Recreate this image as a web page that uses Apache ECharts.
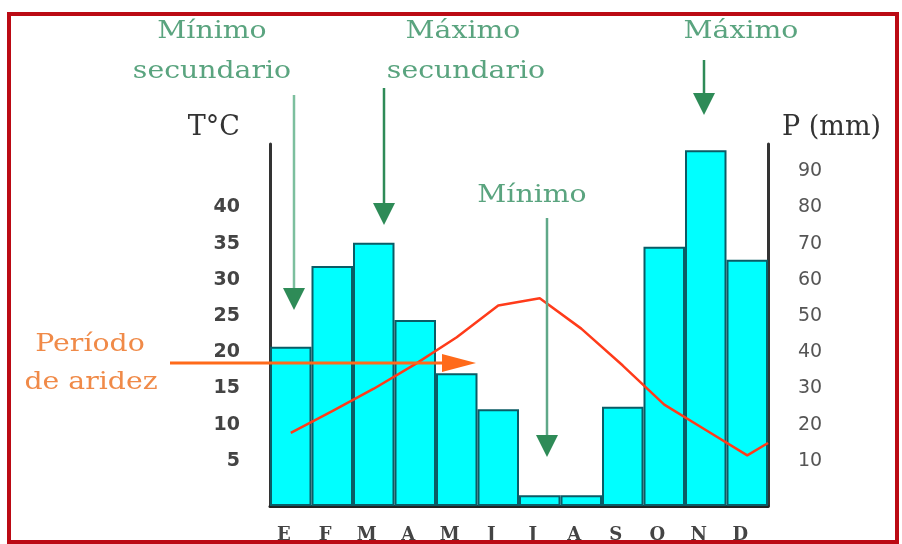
<!DOCTYPE html>
<html>
<head>
<meta charset="utf-8">
<script src="https://cdn.jsdelivr.net/npm/echarts@6/dist/echarts.min.js"></script>
<style>
  html, body { margin: 0; padding: 0; background: #fff; }
  #climo { width: 902px; height: 544px; }
</style>
</head>
<body>
<div id="climo"></div>
<script>
const months = ["E", "F", "M", "A", "M", "J", "J", "A", "S", "O", "N", "D"];
const precip = [44, 66.3, 72.7, 51.4, 36.7, 26.7, 3, 3, 27.4, 71.6, 98.3, 68];
const temp = [10.1, 13.1, 16.2, 19.6, 23.3, 27.7, 28.7, 24.5, 19.4, 14, 10.5, 7];
const tempNextJan = 8.7;

const green = "#5aa47f";
const greenDark = "#2e8b57";
const orange = "#ff6a1a";
const serif = "DejaVu Serif";

function arrowDown(x, y1, y2, shaftColor, headColor) {
  return [
    { type: "line", shape: { x1: x, y1: y1, x2: x, y2: y2 - 18 },
      style: { stroke: shaftColor, lineWidth: 2.5 }, z: 100 },
    { type: "polygon", shape: { points: [[x - 11, y2 - 22], [x + 11, y2 - 22], [x, y2]] },
      style: { fill: headColor }, z: 100 }
  ];
}

function label(text, x, y, color, size) {
  return {
    type: "text", x: x, y: y, scaleX: 1.18, z: 100,
    style: { text: text, fill: color, font: size + "px '" + serif + "'",
      textAlign: "center", textVerticalAlign: "middle" }
  };
}

const chartDom = document.getElementById("climo");
const myChart = echarts.init(chartDom);

const option = {
  animation: false,
  backgroundColor: "#fff",
  grid: { left: 270, right: 134, top: 144, bottom: 38 },
  xAxis: [
    {
      type: "category",
      data: months,
      axisTick: { show: false },
      axisLine: { lineStyle: { color: "#222", width: 3 } },
      axisLabel: {
        margin: 20, color: "#444", fontFamily: serif, fontWeight: "bold",
        fontSize: 18, padding: [0, 14, 0, 0]
      }
    },
    { type: "value", min: 0, max: 12, show: false }
  ],
  yAxis: [
    {
      type: "value", min: 0, max: 50, interval: 5, position: "left",
      name: "T°C", nameGap: 3,
      nameTextStyle: { fontFamily: serif, fontSize: 27, color: "#333", align: "right", padding: [0, 30, 0, 0] },
      axisLine: { show: true, lineStyle: { color: "#333", width: 3 } },
      axisTick: { show: false },
      splitLine: { show: false },
      axisLabel: {
        margin: 30, color: "#444", fontFamily: "DejaVu Sans", fontWeight: "bold",
        fontSize: 19, verticalAlign: "bottom", lineHeight: 18,
        formatter: (v) => (v > 0 && v <= 40 ? String(v) : "")
      }
    },
    {
      type: "value", min: 0, max: 100, interval: 10, position: "right",
      name: "P (mm)", nameGap: 3,
      nameTextStyle: { fontFamily: serif, fontSize: 27, color: "#333", align: "left", padding: [0, 0, 0, 14] },
      axisLine: { show: true, lineStyle: { color: "#333", width: 3 } },
      axisTick: { show: false },
      splitLine: { show: false },
      axisLabel: {
        margin: 30, color: "#555", fontFamily: "DejaVu Sans",
        fontSize: 19, verticalAlign: "bottom", lineHeight: 18,
        formatter: (v) => (v > 0 && v <= 90 ? String(v) : "")
      }
    }
  ],
  series: [
    {
      type: "bar",
      name: "Precipitación",
      yAxisIndex: 1,
      data: precip,
      barCategoryGap: "0%",
      itemStyle: { color: "#00ffff", borderColor: "#0b5c66", borderWidth: 2 }
    },
    {
      type: "line",
      name: "Temperatura",
      xAxisIndex: 1,
      yAxisIndex: 0,
      data: temp.map((t, i) => [i + 0.5, t]).concat([[12, tempNextJan]]),
      showSymbol: false,
      lineStyle: { color: "#ff3b1a", width: 2.5 },
      z: 5
    }
  ],
  graphic: [
    { type: "rect", shape: { x: 9, y: 14, width: 888, height: 528 },
      style: { fill: null, stroke: "#bb0a14", lineWidth: 4 }, z: 100 },
    label("Mínimo", 212, 32, green, 24),
    label("secundario", 212, 72, green, 24),
    label("Máximo", 463, 32, green, 24),
    label("secundario", 466, 72, green, 24),
    label("Máximo", 741, 32, green, 24),
    label("Mínimo", 532, 196, green, 24),
    label("Período", 90, 345, "#f08a48", 24),
    label("de aridez", 91, 383, "#f08a48", 24),
    ...arrowDown(294, 95, 310, "#7cbf9e", greenDark),
    ...arrowDown(384, 88, 225, greenDark, greenDark),
    ...arrowDown(704, 60, 115, greenDark, greenDark),
    ...arrowDown(547, 218, 457, "#5fa888", greenDark),
    { type: "line", shape: { x1: 170, y1: 363, x2: 446, y2: 363 },
      style: { stroke: orange, lineWidth: 3 }, z: 100 },
    { type: "polygon", shape: { points: [[442, 354], [442, 372], [476, 363]] },
      style: { fill: orange }, z: 100 }
  ]
};

myChart.setOption(option);
window.addEventListener("resize", () => {
  myChart.resize();
});
</script>
</body>
</html>
